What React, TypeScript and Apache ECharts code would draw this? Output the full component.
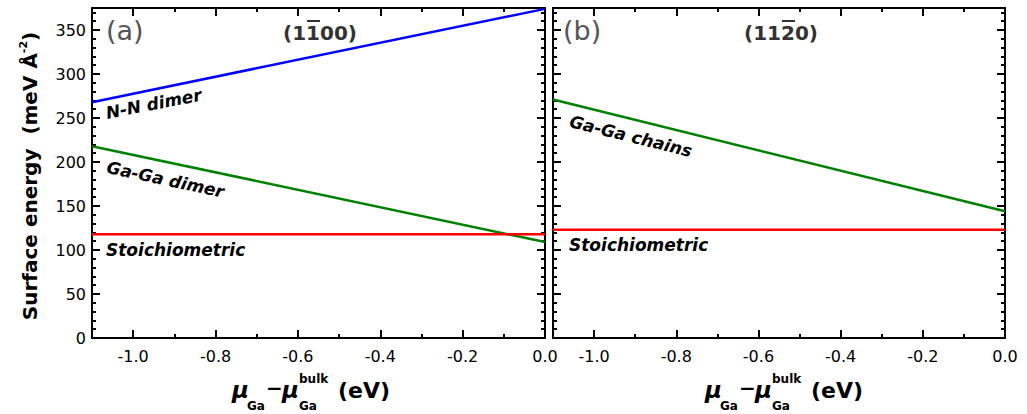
import React, { useEffect, useRef } from "react";
import * as echarts from "echarts";

// ---- data ----
const xEnds = [-1.1, 0];
const leftNNDimer = [268, 374];
const leftGaGaDimer = [218, 109];
const leftStoich = [118, 118];
const rightGaGaChains = [271, 144];
const rightStoich = [123, 123];

const xMajorTicks = [-1.0, -0.8, -0.6, -0.4, -0.2, 0.0];
const xMinorTicks = [-0.9, -0.7, -0.5, -0.3, -0.1];
const yMajorTicks = [0, 50, 100, 150, 200, 250, 300, 350];
const yMinorTicks = [10, 20, 30, 40, 60, 70, 80, 90, 110, 120, 130, 140, 160, 170, 180, 190, 210, 220, 230, 240, 260, 270, 280, 290, 310, 320, 330, 340, 360, 370];

const FONT = "DejaVu Sans";

function pairs(ys: number[]) {
  return xEnds.map((x, i) => [x, ys[i]]);
}

export default function App() {
  const ref = useRef<HTMLDivElement>(null);
  useEffect(() => {
    if (!ref.current) return;
    const chart = echarts.init(ref.current, null, { renderer: "svg" });

    const grids = [
      { left: 92, top: 8, width: 453, height: 330 },
      { left: 553, top: 8, width: 452, height: 330 },
    ];

    const xAxes: any[] = [];
    const yAxes: any[] = [];
    grids.forEach((_, g) => {
      const xDefs = [
        { pos: "bottom", major: true, line: true, labels: true },
        { pos: "bottom", major: false, line: false, labels: false },
        { pos: "top", major: true, line: true, labels: false },
        { pos: "top", major: false, line: false, labels: false },
      ];
      xDefs.forEach((d) => {
        xAxes.push({
          type: "value",
          gridIndex: g,
          position: d.pos,
          min: -1.1,
          max: 0,
          splitLine: { show: false },
          axisLine: { show: d.line, onZero: false, lineStyle: { color: "#000", width: 2 } },
          axisTick: {
            show: true,
            inside: true,
            length: d.major ? 8 : 4,
            customValues: d.major ? xMajorTicks : xMinorTicks,
            lineStyle: { color: "#000", width: 2 },
          },
          axisLabel: {
            show: d.labels,
            customValues: xMajorTicks,
            formatter: (v: number) => v.toFixed(1),
            fontSize: 16,
            fontFamily: FONT,
            color: "#000",
            margin: 10,
          },
        });
      });
      const yDefs = [
        { pos: "left", major: true, line: true, labels: g === 0 },
        { pos: "left", major: false, line: false, labels: false },
        { pos: "right", major: true, line: true, labels: false },
        { pos: "right", major: false, line: false, labels: false },
      ];
      yDefs.forEach((d) => {
        yAxes.push({
          type: "value",
          gridIndex: g,
          position: d.pos,
          min: 0,
          max: 375,
          splitLine: { show: false },
          axisLine: { show: d.line, onZero: false, lineStyle: { color: "#000", width: 2 } },
          axisTick: {
            show: true,
            inside: true,
            length: d.major ? 8 : 4,
            customValues: d.major ? yMajorTicks : yMinorTicks,
            lineStyle: { color: "#000", width: 2 },
          },
          axisLabel: {
            show: d.labels,
            customValues: yMajorTicks,
            fontSize: 16,
            fontFamily: FONT,
            color: "#000",
            margin: 6,
          },
        });
      });
    });

    const mkSeries = (name: string, ys: number[], color: string, g: number) => ({
      name,
      type: "line",
      xAxisIndex: g * 4,
      yAxisIndex: g * 4,
      data: pairs(ys),
      showSymbol: false,
      symbol: "none",
      lineStyle: { color, width: 2.5 },
      z: 1,
    });

    const labelStyle = (text: string) => ({
      text,
      fill: "#000",
      font: `italic bold 17px "${FONT}"`,
      textAlign: "left",
      textVerticalAlign: "middle",
    });
    const deg = Math.PI / 180;

    const xTitle = (ox: number) => [
      { type: "text", left: ox, top: 378, style: { text: "μ", fill: "#000", font: `italic bold 23px "${FONT}"` } },
      { type: "text", left: ox + 15, top: 400, style: { text: "Ga", fill: "#000", font: `bold 12px "${FONT}"` } },
      { type: "text", left: ox + 34, top: 378, style: { text: "−", fill: "#000", font: `bold 20px "${FONT}"` } },
      { type: "text", left: ox + 50, top: 378, style: { text: "μ", fill: "#000", font: `italic bold 23px "${FONT}"` } },
      { type: "text", left: ox + 67, top: 373, style: { text: "bulk", fill: "#000", font: `bold 12px "${FONT}"` } },
      { type: "text", left: ox + 67, top: 400, style: { text: "Ga", fill: "#000", font: `bold 12px "${FONT}"` } },
      { type: "text", left: ox + 106, top: 379, style: { text: "(eV)", fill: "#000", font: `bold 22px "${FONT}"` } },
    ];

    chart.setOption({
      animation: false,
      backgroundColor: "#fff",
      grid: grids.map((g) => ({ ...g, show: false, containLabel: false })),
      xAxis: xAxes,
      yAxis: yAxes,
      series: [
        mkSeries("N-N dimer", leftNNDimer, "#0000ff", 0),
        mkSeries("Ga-Ga dimer", leftGaGaDimer, "#008000", 0),
        mkSeries("Stoichiometric (a)", leftStoich, "#ff0000", 0),
        mkSeries("Ga-Ga chains", rightGaGaChains, "#008000", 1),
        mkSeries("Stoichiometric (b)", rightStoich, "#ff0000", 1),
      ],
      graphic: [
        { type: "text", x: 106, y: 30, style: { text: "(a)", fill: "#555", font: `27px "${FONT}"`, textVerticalAlign: "middle" } },
        { type: "text", x: 563, y: 30, style: { text: "(b)", fill: "#555", font: `27px "${FONT}"`, textVerticalAlign: "middle" } },
        { type: "text", x: 283, y: 33, style: { text: "(1100)", fill: "#333", font: `bold 20px "${FONT}"`, textVerticalAlign: "middle" } },
        { type: "line", shape: { x1: 307, y1: 21, x2: 320, y2: 21 }, style: { stroke: "#333", lineWidth: 2 } },
        { type: "text", x: 744, y: 33, style: { text: "(1120)", fill: "#333", font: `bold 20px "${FONT}"`, textVerticalAlign: "middle" } },
        { type: "line", shape: { x1: 782, y1: 21, x2: 795, y2: 21 }, style: { stroke: "#333", lineWidth: 2 } },
        { type: "text", x: 106, y: 113, rotation: 11 * deg, style: labelStyle("N-N dimer") },
        { type: "text", x: 107, y: 167, rotation: -12 * deg, style: labelStyle("Ga-Ga dimer") },
        { type: "text", x: 106, y: 250, style: labelStyle("Stoichiometric") },
        { type: "text", x: 570, y: 121, rotation: -14 * deg, style: labelStyle("Ga-Ga chains") },
        { type: "text", x: 569, y: 245, style: labelStyle("Stoichiometric") },
        {
          type: "text",
          x: 30,
          y: 176,
          rotation: Math.PI / 2,
          style: {
            text: "{a|Surface energy  (meV Å}{s|-2}{a|)}",
            textAlign: "center",
            textVerticalAlign: "middle",
            rich: {
              a: { fontSize: 20, fontWeight: "bold", fontFamily: FONT, color: "#000", lineHeight: 24 },
              s: { fontSize: 11, fontWeight: "bold", fontFamily: FONT, color: "#000", verticalAlign: "top", lineHeight: 24, padding: [0, 0, 10, 0] },
            },
          },
        },
        ...xTitle(232),
        ...xTitle(705),
      ],
    });
    return () => chart.dispose();
  }, []);
  return (
    <div
      ref={ref}
      style={{ position: "absolute", left: 0, top: 0, width: 1027, height: 414, background: "#fff" }}
    />
  );
}
